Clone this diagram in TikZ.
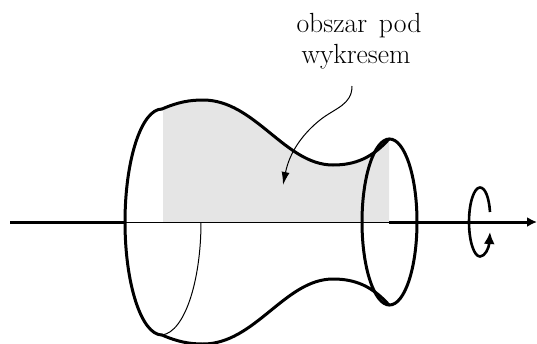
\documentclass[tikz,border=0pt]{standalone}
\usetikzlibrary{arrows.meta}
\tikzset{
  heavy/.style={line width=3pt,black},
  lightl/.style={line width=1pt,black},
  lbl/.style={inner sep=0pt,font=\fontsize{27.7}{33}\selectfont,anchor=base},
}
\begin{document}
\begin{tikzpicture}[x=1pt,y=-1pt]
\useasboundingbox (0,0) rectangle (537,343);
% shaded area under the graph
\fill[black!10] (163,222) -- (163,108.5)
  .. controls (178,102) and (190,100) .. (203,100)
  .. controls (255,100) and (285,165) .. (333,165)
  .. controls (355,165) and (372,158) .. (389,139)
  -- (389,222) -- cycle;
% axis
\draw[heavy] (10,222) -- (125,222);
\draw[lightl] (125,222) -- (389,222);
\draw[heavy,-{Latex[length=10pt,width=10pt]}] (389,222) -- (537,222);
% profile
\draw[heavy,line cap=round] (162,109)
  .. controls (178,102) and (190,100) .. (203,100)
  .. controls (255,100) and (285,165) .. (333,165)
  .. controls (355,165) and (372,158) .. (389,139);
\draw[heavy,line cap=round] (162,335)
  .. controls (178,342) and (190,344) .. (203,344)
  .. controls (255,344) and (285,279) .. (333,279)
  .. controls (355,279) and (372,286) .. (389,305);
% left rim
\draw[heavy,line cap=round] (162,109) .. controls (141.6,109) and (125,159.6) .. (125,222)
  .. controls (125,284.4) and (141.6,335) .. (162,335);
% back half of the left rim
\draw[lightl] (201,222) .. controls (201,280) and (185,332) .. (162,335);
% right rim
\draw[heavy] (389.5,222) ellipse[x radius=27.5,y radius=83];
% rotation mark
\draw[heavy,line width=2.6pt,-{Latex[length=12pt,width=11pt]}] (490,212)
  .. controls (489,197) and (485,187.5) .. (480,187.5)
  .. controls (474,187.5) and (469,203) .. (469,222)
  .. controls (469,241) and (474,256.5) .. (480,256.5)
  .. controls (485,256.5) and (489,248) .. (490,232);
% callout
\node[lbl] (t1) at (359,32) {obszar\hspace{0.43em}pod};
\node[lbl] (t2) at (356,63) {wykresem};
\coordinate (cs) at (352,86);
\coordinate (cm) at (320,120);
\coordinate (ce) at (283,185);
\draw[lightl,-{Latex[length=13pt,width=8pt]}] (cs)
  .. controls (352,105) and (335,108) .. (cm)
  .. controls (305,132) and (290,150) .. (ce);
\end{tikzpicture}
\end{document}
